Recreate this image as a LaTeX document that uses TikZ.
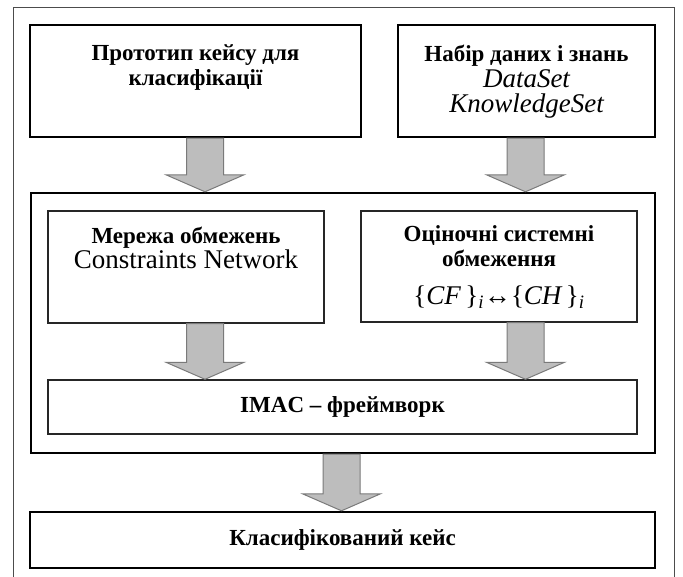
\documentclass[tikz,border=0pt]{standalone}
\usepackage{fontspec}
\setmainfont{Liberation Serif}
\usetikzlibrary{positioning}
\usetikzlibrary{calc}

\definecolor{arrowfill}{HTML}{BDBDBD}
\definecolor{arrowline}{HTML}{7A7A7A}

% wide grey arrow from one point straight down to another
\newcommand{\fatarrow}[2]{%
	\draw[fat] let \p1 = (#1), \p2 = (#2) in
		(\x1-18.5pt,\y1) -- (\x1+18.5pt,\y1) -- (\x1+18.5pt,\y2+17pt) -- (\x1+39pt,\y2+17pt)
		-- (\x1,\y2) -- (\x1-39pt,\y2+17pt) -- (\x1-18.5pt,\y2+17pt) -- cycle;}

\begin{document}
\begin{tikzpicture}[x = 1pt, y = -1pt,
	box/.style = {rectangle, draw, line width = 2.4pt, inner sep = 0pt},
	subbox/.style = {rectangle, draw = black!85, line width = 1.4pt, inner sep = 0pt},
	frame/.style = {rectangle, draw = black!70, line width = 1.1pt, inner sep = 0pt},
	bold/.style = {font = \fontsize{23}{25}\selectfont\bfseries, align = center, inner sep = 0pt},
	fat/.style = {draw = arrowline, fill = arrowfill, line width = 1pt}]
	\useasboundingbox (0,0) rectangle (683,577);
	\node[frame, minimum width = 661pt, minimum height = 620pt, anchor = north west] (page) at (13,7) {};
	% boxes
	\node[box, minimum width = 331pt, minimum height = 112pt] (proto) at (195.5,81) {};
	\node[box, minimum width = 257pt, minimum height = 112pt] (data) at (526.5,81) {};
	\node[box, minimum width = 624pt, minimum height = 260pt] (mid) at (343,323) {};
	\node[subbox, minimum width = 276pt, minimum height = 112pt] (net) at (186,267) {};
	\node[subbox, minimum width = 276pt, minimum height = 111pt] (eval) at (499,266.5) {};
	\node[subbox, minimum width = 589pt, minimum height = 54pt] (imac) at (342.5,407) {};
	\node[box, minimum width = 625pt, minimum height = 56pt] (result) at (342.5,540) {};
	% texts
	\node[bold, below = 21pt of proto.north] (protot) {Прототип кейсу для\\класифікації};
	\node[bold, below = 21pt of data.north] (datat) {Набір даних і знань\\[1pt]{\fontsize{27}{25}\selectfont\mdseries\itshape DataSet}\\{\fontsize{27}{25}\selectfont\mdseries\itshape KnowledgeSet}};
	\node[bold, below = 17pt of net.north] (nett) {Мережа обмежень\\{\fontsize{27}{28}\selectfont\mdseries Constraints Network}};
	\node[bold, below = 15pt of eval.north] (evalt) {Оціночні системні\\обмеження\\[13pt]{\fontsize{27}{28}\selectfont\mdseries \{\textit{CF\,}\}\textsubscript{\textit{i}}↔\{\textit{CH\,}\}\textsubscript{\textit{i}}}};
	\node[bold] (imact) at (imac) {IMAC – фреймворк};
	\node[bold] (resultt) at (result) {Класифікований кейс};
	% arrows
	\fatarrow{$(proto.south)+(9.5,0)$}{mid.north}
	\fatarrow{$(data.south)+(-1,0)$}{mid.north}
	\fatarrow{$(net.south)+(19,0)$}{imac.north}
	\fatarrow{$(eval.south)+(26.5,0)$}{imac.north}
	\fatarrow{$(mid.south)+(-1.5,0)$}{result.north}
\end{tikzpicture}
\end{document}
